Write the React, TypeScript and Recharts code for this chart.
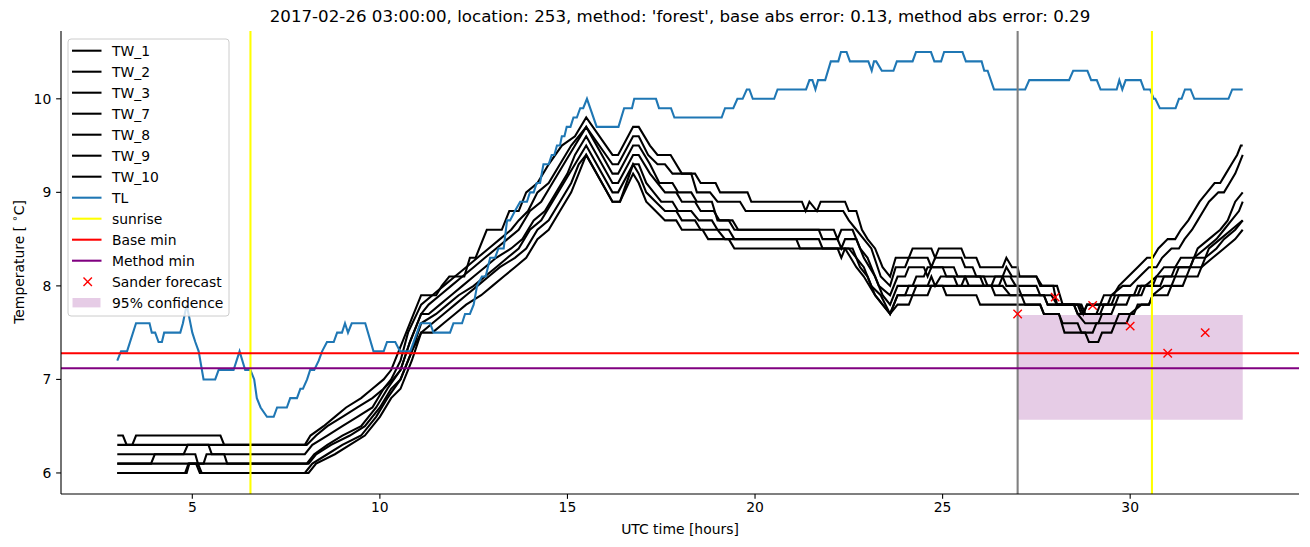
import React from 'react';
import { ComposedChart, Line, XAxis, YAxis, ReferenceLine, ReferenceArea, Scatter } from 'recharts';

type P = [number, number];

const xTicks = [5, 10, 15, 20, 25, 30];
const yTicks = [6, 7, 8, 9, 10];
const seriesNames = ['TW_1', 'TW_2', 'TW_3', 'TW_7', 'TW_8', 'TW_9', 'TW_10'];
const title = "2017-02-26 03:00:00, location: 253, method: 'forest', base abs error: 0.13, method abs error: 0.29";

const tl: P[] = [[3.0,7.2],[3.1,7.3],[3.26,7.3],[3.5,7.6],[3.86,7.6],[3.92,7.5],[4.01,7.5],[4.1,7.4],[4.19,7.4],[4.25,7.5],[4.68,7.5],[4.75,7.6],[4.85,7.8],[5.0,7.5],[5.08,7.4],[5.17,7.3],[5.3,7.0],[5.61,7.0],[5.7,7.1],[6.1,7.1],[6.26,7.3],[6.41,7.1],[6.55,7.1],[6.65,7.0],[6.72,6.8],[6.82,6.7],[6.99,6.6],[7.17,6.6],[7.26,6.7],[7.52,6.7],[7.61,6.8],[7.79,6.8],[7.88,6.9],[7.95,6.9],[8.06,7.0],[8.14,7.1],[8.25,7.1],[8.37,7.2],[8.46,7.3],[8.59,7.4],[8.77,7.4],[8.86,7.5],[8.99,7.5],[9.07,7.6],[9.15,7.5],[9.25,7.6],[9.61,7.6],[9.83,7.3],[10.1,7.3],[10.19,7.4],[10.41,7.4],[10.54,7.3],[10.81,7.3],[11.08,7.6],[11.34,7.6],[11.43,7.5],[11.87,7.5],[11.96,7.6],[12.19,7.6],[12.27,7.7],[12.4,7.7],[12.5,7.8],[12.59,8.0],[12.72,8.1],[12.82,8.1],[12.94,8.3],[13.07,8.3],[13.16,8.4],[13.3,8.4],[13.39,8.7],[13.47,8.7],[13.6,8.8],[13.74,8.9],[13.92,8.9],[14.0,9.0],[14.1,9.0],[14.18,9.1],[14.27,9.1],[14.36,9.3],[14.5,9.3],[14.58,9.4],[14.65,9.4],[14.72,9.5],[14.8,9.5],[14.85,9.6],[14.92,9.6],[14.98,9.7],[15.08,9.7],[15.16,9.8],[15.25,9.8],[15.34,9.9],[15.42,9.9],[15.52,10.0],[15.78,9.7],[16.36,9.7],[16.51,9.9],[16.72,9.9],[16.78,10.0],[17.36,10.0],[17.44,9.9],[17.76,9.9],[17.85,9.8],[19.11,9.8],[19.2,9.9],[19.42,9.9],[19.53,10.0],[19.67,10.0],[19.78,10.1],[19.85,10.1],[19.94,10.0],[20.51,10.0],[20.6,10.1],[21.36,10.1],[21.45,10.2],[21.53,10.2],[21.61,10.1],[21.68,10.2],[21.87,10.2],[22.02,10.4],[22.22,10.4],[22.29,10.5],[22.44,10.5],[22.53,10.4],[23.02,10.4],[23.11,10.3],[23.17,10.4],[23.23,10.4],[23.38,10.3],[23.69,10.3],[23.78,10.4],[24.2,10.4],[24.29,10.5],[24.69,10.5],[24.78,10.4],[24.96,10.4],[25.04,10.5],[25.53,10.5],[25.62,10.4],[26.04,10.4],[26.11,10.3],[26.2,10.3],[26.37,10.1],[27.2,10.1],[27.31,10.2],[28.37,10.2],[28.48,10.3],[28.86,10.3],[28.96,10.2],[29.11,10.2],[29.21,10.1],[29.64,10.1],[29.71,10.2],[29.79,10.1],[29.88,10.2],[30.28,10.2],[30.37,10.1],[30.53,10.1],[30.63,10.0],[30.67,10.0],[30.79,9.9],[31.21,9.9],[31.3,10.0],[31.37,10.0],[31.46,10.1],[31.61,10.1],[31.71,10.0],[32.62,10.0],[32.72,10.1],[33.0,10.1]];

const tw1: P[] = [[3,6.4],[3.15,6.4],[3.25,6.3],[3.4,6.3],[3.5,6.4],[5.75,6.4],[5.85,6.3],[8.0,6.3],[8.15,6.4],[8.5,6.5],[8.8,6.6],[9.1,6.7],[9.5,6.8],[9.8,6.9],[10.1,7.0],[10.3,7.1],[10.5,7.3],[10.7,7.5],[10.9,7.7],[11.1,7.9],[11.5,7.9],[11.65,8.0],[11.85,8.1],[12.25,8.1],[12.4,8.3],[12.55,8.3],[12.85,8.6],[13.25,8.6],[13.45,8.8],[13.7,8.8],[13.9,9.0],[14.2,9.1],[14.5,9.3],[14.85,9.5],[15.2,9.6],[15.5,9.8],[16.2,9.4],[16.35,9.4],[16.75,9.7],[16.9,9.7],[17.2,9.5],[17.4,9.4],[17.75,9.4],[18.05,9.2],[18.4,9.2],[18.55,9.1],[18.95,9.1],[19.07,9.0],[19.8,9.0],[19.9,8.9],[21.25,8.9],[21.35,8.8],[21.45,8.9],[21.65,8.8],[21.75,8.9],[22.4,8.9],[22.5,8.8],[22.7,8.8],[22.85,8.6],[23.0,8.5],[23.2,8.4],[23.4,8.2],[23.6,8.1],[23.75,8.3],[24.1,8.3],[24.2,8.4],[24.7,8.4],[24.8,8.3],[24.9,8.4],[25.5,8.4],[25.6,8.3],[25.9,8.3],[26.0,8.2],[26.6,8.2],[26.7,8.3],[26.85,8.2],[27.0,8.2],[27.05,8.1],[27.5,8.1],[27.65,8.0],[28.05,8.0],[28.2,7.8],[28.65,7.8],[28.75,7.7],[28.85,7.8],[29.2,7.8],[29.3,7.9],[29.55,7.9],[29.7,8.0],[29.95,8.1],[30.2,8.2],[30.45,8.3],[30.6,8.3],[30.75,8.4],[31.0,8.5],[31.2,8.5],[31.35,8.6],[31.55,8.7],[31.7,8.8],[31.85,8.9],[32.05,9.0],[32.25,9.1],[32.4,9.1],[32.55,9.2],[32.7,9.3],[32.85,9.4],[32.95,9.5],[33,9.5]];

const tw2: P[] = [[3,6.3],[8.05,6.3],[8.3,6.4],[8.6,6.5],[9.0,6.6],[9.4,6.7],[9.8,6.8],[10.1,6.9],[10.3,7.0],[10.55,7.2],[10.75,7.5],[11.1,7.8],[11.4,7.9],[11.7,8.0],[12.0,8.1],[12.3,8.2],[12.6,8.3],[12.9,8.4],[13.2,8.5],[13.5,8.6],[13.7,8.7],[13.95,8.8],[14.2,9.0],[14.5,9.1],[14.8,9.3],[15.1,9.5],[15.5,9.7],[16.2,9.3],[16.35,9.3],[16.75,9.6],[16.9,9.6],[17.15,9.4],[17.4,9.3],[17.6,9.3],[17.8,9.2],[18.3,9.2],[18.45,9.0],[18.8,9.0],[19.0,8.9],[19.6,8.9],[19.75,8.8],[22.35,8.8],[22.5,8.7],[22.7,8.6],[22.9,8.5],[23.1,8.4],[23.35,8.1],[23.6,8.0],[23.75,8.2],[24.0,8.2],[24.1,8.3],[24.6,8.3],[24.7,8.2],[24.8,8.3],[25.5,8.3],[25.6,8.2],[25.8,8.2],[25.9,8.1],[26.6,8.1],[26.7,8.2],[26.85,8.1],[27.5,8.1],[27.6,8.0],[27.95,8.0],[28.05,7.8],[28.5,7.8],[28.6,7.7],[28.75,7.7],[28.85,7.8],[29.4,7.8],[29.5,7.9],[29.8,8.0],[30.0,8.0],[30.25,8.1],[30.5,8.2],[30.7,8.2],[30.85,8.3],[31.1,8.4],[31.3,8.4],[31.45,8.5],[31.65,8.6],[31.8,8.7],[31.95,8.8],[32.1,8.9],[32.35,9.0],[32.5,9.0],[32.65,9.1],[32.8,9.2],[32.9,9.3],[33,9.4]];

const tw3: P[] = [[3,6.2],[4.77,6.2],[4.88,6.3],[5.43,6.3],[5.52,6.2],[8.0,6.2],[8.2,6.3],[8.6,6.4],[9.0,6.5],[9.4,6.6],[9.8,6.7],[10.1,6.9],[10.35,7.0],[10.55,7.1],[10.8,7.4],[11.1,7.7],[11.3,7.8],[11.6,7.9],[11.9,8.0],[12.2,8.1],[12.5,8.2],[12.8,8.3],[13.1,8.4],[13.4,8.5],[13.7,8.6],[14.0,8.8],[14.3,8.9],[14.6,9.1],[14.9,9.3],[15.2,9.5],[15.5,9.7],[16.2,9.2],[16.35,9.2],[16.75,9.5],[16.9,9.5],[17.2,9.3],[17.45,9.1],[17.8,9.1],[17.95,9.0],[18.3,9.0],[18.45,8.9],[18.85,8.9],[19.0,8.7],[19.4,8.7],[19.55,8.6],[22.1,8.6],[22.2,8.5],[22.3,8.6],[22.6,8.6],[22.8,8.4],[23.0,8.3],[23.3,8.0],[23.6,7.9],[23.8,8.1],[24.0,8.1],[24.1,8.2],[24.5,8.2],[24.6,8.1],[24.7,8.2],[25.3,8.2],[25.4,8.1],[26.0,8.1],[26.1,8.0],[26.5,8.0],[26.6,8.1],[26.8,8.1],[26.95,8.0],[27.5,8.0],[27.6,7.9],[27.9,7.9],[28.05,7.8],[28.6,7.8],[28.7,7.7],[29.2,7.7],[29.3,7.8],[29.6,7.8],[29.7,7.9],[30.3,7.9],[30.4,8.0],[30.7,8.1],[30.9,8.2],[31.2,8.2],[31.35,8.3],[31.7,8.3],[31.8,8.4],[32.1,8.5],[32.4,8.6],[32.6,8.7],[32.8,8.9],[33,9.0]];

const tw7: P[] = [[3,6.1],[3.9,6.1],[4.0,6.2],[5.08,6.2],[5.15,6.1],[8.05,6.1],[8.25,6.2],[8.6,6.3],[9.0,6.4],[9.5,6.5],[9.9,6.7],[10.2,6.9],[10.55,7.1],[10.8,7.4],[11.1,7.7],[11.3,7.7],[11.6,7.8],[11.9,7.9],[12.2,8.0],[12.5,8.1],[12.8,8.2],[13.1,8.3],[13.5,8.4],[13.8,8.5],[14.1,8.7],[14.4,8.8],[14.7,9.0],[15.0,9.2],[15.2,9.4],[15.5,9.6],[16.2,9.1],[16.35,9.1],[16.75,9.4],[16.9,9.4],[17.2,9.2],[17.4,9.1],[17.6,9.0],[17.9,9.0],[18.05,8.9],[18.4,8.9],[18.55,8.8],[18.9,8.8],[19.05,8.7],[19.3,8.7],[19.45,8.6],[21.7,8.6],[21.8,8.5],[22.2,8.5],[22.3,8.4],[22.4,8.5],[22.7,8.5],[22.9,8.3],[23.2,8.1],[23.4,7.9],[23.6,7.8],[23.8,8.0],[24.2,8.0],[24.3,8.1],[24.5,8.1],[24.6,8.2],[25.0,8.2],[25.1,8.1],[25.6,8.1],[25.7,8.0],[26.3,8.0],[26.4,8.1],[26.6,8.1],[26.7,8.0],[27.0,8.0],[27.1,7.9],[27.7,7.9],[27.8,7.8],[28.7,7.8],[28.8,7.7],[29.1,7.7],[29.2,7.8],[29.5,7.8],[29.6,7.9],[30.1,7.9],[30.2,8.0],[30.6,8.0],[30.7,8.1],[31.1,8.1],[31.2,8.2],[31.6,8.2],[31.7,8.3],[32.0,8.4],[32.3,8.5],[32.5,8.6],[32.7,8.7],[32.9,8.8],[33,8.9]];

const tw8: P[] = [[3,6.0],[4.81,6.0],[4.9,6.1],[5.15,6.1],[5.25,6.0],[8.0,6.0],[8.2,6.1],[8.6,6.2],[9.0,6.3],[9.5,6.4],[9.9,6.6],[10.2,6.8],[10.55,7.0],[10.85,7.3],[11.1,7.6],[11.5,7.7],[11.8,7.8],[12.1,7.9],[12.5,8.0],[12.8,8.1],[13.1,8.2],[13.4,8.3],[13.7,8.4],[14.0,8.6],[14.3,8.7],[14.6,8.9],[14.9,9.1],[15.2,9.3],[15.5,9.5],[16.2,9.0],[16.35,9.0],[16.75,9.3],[16.9,9.3],[17.1,9.1],[17.3,9.0],[17.5,8.9],[17.8,8.9],[17.95,8.8],[18.3,8.8],[18.5,8.7],[18.85,8.7],[19.0,8.6],[19.3,8.6],[19.45,8.5],[21.7,8.5],[21.8,8.4],[22.5,8.4],[22.7,8.3],[22.9,8.2],[23.1,8.0],[23.35,7.9],[23.6,7.7],[23.8,7.9],[24.0,7.9],[24.1,8.0],[25.5,8.0],[25.6,8.1],[26.1,8.1],[26.2,8.0],[26.6,8.0],[26.8,7.9],[27.1,7.9],[27.2,7.8],[27.6,7.8],[27.7,7.7],[28.1,7.7],[28.25,7.5],[28.8,7.5],[28.9,7.4],[29.15,7.4],[29.25,7.5],[29.5,7.5],[29.6,7.6],[29.9,7.6],[30.0,7.7],[30.3,7.8],[30.5,7.8],[30.6,7.9],[30.9,8.0],[31.1,8.0],[31.2,8.1],[31.5,8.1],[31.6,8.2],[31.9,8.2],[32.0,8.3],[32.3,8.4],[32.5,8.5],[32.8,8.6],[33,8.7]];

const tw9: P[] = [[3,6.1],[5.3,6.1],[5.38,6.2],[5.85,6.2],[5.93,6.1],[8.1,6.1],[8.3,6.2],[8.7,6.3],[9.2,6.4],[9.6,6.5],[10.0,6.7],[10.3,6.9],[10.55,7.0],[10.85,7.3],[11.1,7.5],[11.4,7.6],[11.7,7.7],[12.0,7.8],[12.3,7.9],[12.6,8.0],[12.9,8.1],[13.2,8.2],[13.6,8.3],[13.9,8.4],[14.2,8.6],[14.5,8.7],[14.8,8.9],[15.1,9.1],[15.3,9.3],[15.5,9.4],[16.2,8.9],[16.4,8.9],[16.75,9.3],[16.9,9.2],[17.1,9.0],[17.35,8.9],[17.6,8.8],[17.9,8.8],[18.05,8.7],[18.4,8.7],[18.55,8.6],[19.0,8.6],[19.2,8.5],[21.1,8.5],[21.2,8.4],[22.4,8.4],[22.55,8.3],[22.7,8.2],[22.9,8.1],[23.2,7.9],[23.4,7.8],[23.6,7.7],[23.8,7.9],[24.2,7.9],[24.3,8.0],[24.6,8.0],[24.7,8.1],[24.8,8.0],[24.95,8.1],[25.3,8.1],[25.4,8.0],[26.3,8.0],[26.4,7.9],[27.7,7.9],[27.8,7.8],[28.5,7.8],[28.6,7.7],[28.8,7.6],[29.15,7.6],[29.25,7.7],[29.5,7.7],[29.6,7.8],[29.9,7.8],[30.0,7.9],[30.2,7.9],[30.3,8.0],[30.8,8.0],[30.9,8.1],[31.2,8.1],[31.3,8.2],[31.6,8.2],[31.7,8.3],[32.0,8.3],[32.1,8.4],[32.4,8.5],[32.7,8.6],[33,8.7]];

const tw10: P[] = [[3,6.0],[4.85,6.0],[4.92,6.1],[5.1,6.1],[5.2,6.0],[8.1,6.0],[8.3,6.1],[8.8,6.2],[9.2,6.3],[9.6,6.4],[10.0,6.6],[10.3,6.8],[10.55,6.9],[10.85,7.2],[11.1,7.5],[11.4,7.5],[11.7,7.6],[12.0,7.7],[12.3,7.8],[12.7,7.9],[13.0,8.0],[13.3,8.1],[13.6,8.2],[13.9,8.3],[14.2,8.5],[14.5,8.6],[14.8,8.8],[15.1,9.0],[15.3,9.2],[15.5,9.4],[16.2,8.9],[16.4,8.9],[16.75,9.2],[16.9,9.1],[17.1,8.9],[17.35,8.8],[17.6,8.7],[17.9,8.7],[18.05,8.6],[18.6,8.6],[18.75,8.5],[19.3,8.5],[19.45,8.4],[22.2,8.4],[22.3,8.3],[22.4,8.4],[22.6,8.4],[22.8,8.2],[23.0,8.1],[23.2,7.9],[23.4,7.8],[23.6,7.7],[23.8,7.8],[24.1,7.8],[24.2,7.9],[24.6,7.9],[24.7,8.0],[25.0,8.0],[25.1,7.9],[25.9,7.9],[26.0,7.8],[27.6,7.8],[27.7,7.7],[28.1,7.7],[28.2,7.6],[28.6,7.6],[28.7,7.5],[29.0,7.5],[29.1,7.6],[29.6,7.6],[29.7,7.7],[30.1,7.7],[30.2,7.8],[30.5,7.8],[30.6,7.9],[31.0,7.9],[31.1,8.0],[31.4,8.0],[31.5,8.1],[31.8,8.1],[31.9,8.2],[32.2,8.3],[32.5,8.4],[32.8,8.5],[33,8.6]];

const twSeries: P[][] = [tw1, tw2, tw3, tw7, tw8, tw9, tw10];

const sanderHours = [27, 28, 29, 30, 31, 32];
const sanderTemps = [7.70, 7.88, 7.79, 7.57, 7.28, 7.50];
const sunriseHours = [6.55, 30.58];
const forecastStartHour = 27.0;
const baseMin = 7.28;
const methodMin = 7.12;
const confHours = [27, 33];
const confTemps = [6.57, 7.69];

const X_DOMAIN: [number, number] = [1.5, 34.5];
const Y_DOMAIN: [number, number] = [5.775, 10.725];

const FONT = 'DejaVu Sans, sans-serif';
const FS = 13.9;
const LW = 2.08;
const TICK = 4.86;

const toPts = (arr: P[]) => arr.map(([t, v]) => ({ t, v }));
const sanderData = sanderHours.map((t, i) => ({ t, v: sanderTemps[i] }));

const XMark = (props: any) => {
  const { cx, cy } = props;
  if (cx == null || cy == null) return null;
  const s = 4.2;
  return (
    <path d={`M${cx - s},${cy - s}L${cx + s},${cy + s}M${cx - s},${cy + s}L${cx + s},${cy - s}`} stroke="red" strokeWidth={1.4} fill="none" />
  );
};

const legendItems: { label: string; kind: string; color: string }[] = [
  ...seriesNames.map((n) => ({ label: n, kind: 'line', color: '#000000' })),
  { label: 'TL', kind: 'line', color: '#1f77b4' },
  { label: 'sunrise', kind: 'line', color: '#ffff00' },
  { label: 'Base min', kind: 'line', color: '#ff0000' },
  { label: 'Method min', kind: 'line', color: '#800080' },
  { label: 'Sander forecast', kind: 'x', color: '#ff0000' },
  { label: '95% confidence', kind: 'patch', color: '#800080' },
];

const LegendBox = () => (
  <svg style={{ position: 'absolute', left: 67, top: 38 }} width={164} height={281}>
    <rect x={1} y={1} width={161} height={277} rx={3} ry={3} fill="rgba(255,255,255,0.8)" stroke="#cccccc" strokeWidth={1} />
    {legendItems.map((it, i) => {
      const y = 12.7 + i * 21;
      return (
        <g key={it.label}>
          {it.kind === 'line' && <line x1={5} x2={34.5} y1={y} y2={y} stroke={it.color} strokeWidth={LW} />}
          {it.kind === 'x' && (
            <path d={`M${20.7 - 4.2},${y - 4.2}L${20.7 + 4.2},${y + 4.2}M${20.7 - 4.2},${y + 4.2}L${20.7 + 4.2},${y - 4.2}`} stroke="red" strokeWidth={1.4} />
          )}
          {it.kind === 'patch' && <rect x={5.5} y={y - 4.7} width={28} height={9.4} fill={it.color} fillOpacity={0.2} />}
          <text x={45} y={y} dominantBaseline="central" fontFamily={FONT} fontSize={FS} fill="#000">
            {it.label}
          </text>
        </g>
      );
    })}
  </svg>
);

export default function App() {
  return (
    <div style={{ position: 'absolute', left: 0, top: 0, width: 1310, height: 547, background: '#fff', fontFamily: FONT, overflow: 'hidden' }}>
      <div style={{ position: 'absolute', left: 61, width: 1238, top: 7, textAlign: 'center', fontSize: 16.67, lineHeight: '20px', color: '#000', whiteSpace: 'nowrap' }}>
        {title}
      </div>
      <ComposedChart width={1310} height={547} margin={{ top: 31, right: 11, left: 0, bottom: 0 }}>
        <XAxis
          xAxisId="main"
          type="number"
          dataKey="t"
          domain={X_DOMAIN}
          allowDataOverflow
          ticks={xTicks}
          tickSize={TICK}
          tickMargin={3.5}
          height={53}
          stroke="#000"
          tick={{ fill: '#000', fontSize: FS, fontFamily: FONT }}
          tickLine={{ stroke: '#000', strokeWidth: 1.1 }}
          axisLine={{ stroke: '#000', strokeWidth: 1.1 }}
          label={{ value: 'UTC time [hours]', position: 'insideBottom', offset: 13, fill: '#000', fontSize: FS, fontFamily: FONT }}
        />
        <XAxis xAxisId="top" orientation="top" type="number" domain={X_DOMAIN} allowDataOverflow height={0} tick={false} tickLine={false} axisLine={{ stroke: '#000', strokeWidth: 1.1 }} />
        <YAxis
          yAxisId="main"
          type="number"
          domain={Y_DOMAIN}
          allowDataOverflow
          ticks={yTicks}
          width={61}
          tickSize={TICK}
          tickMargin={4.86}
          tick={{ fill: '#000', fontSize: FS, fontFamily: FONT }}
          tickLine={{ stroke: '#000', strokeWidth: 1.1 }}
          axisLine={{ stroke: '#000', strokeWidth: 1.1 }}
        />
        <YAxis yAxisId="right" orientation="right" type="number" domain={Y_DOMAIN} allowDataOverflow width={0} tick={false} tickLine={false} axisLine={{ stroke: '#000', strokeWidth: 1.1 }} />

        <ReferenceArea xAxisId="main" yAxisId="main" x1={confHours[0]} x2={confHours[1]} y1={confTemps[0]} y2={confTemps[1]} fill="#800080" fillOpacity={0.2} stroke="none" />

        {twSeries.map((s, i) => (
          <Line key={seriesNames[i]} xAxisId="main" yAxisId="main" data={toPts(s)} dataKey="v" type="linear" stroke="#000" strokeWidth={LW} dot={false} activeDot={false} isAnimationActive={false} />
        ))}
        <Line xAxisId="main" yAxisId="main" data={toPts(tl)} dataKey="v" type="linear" stroke="#1f77b4" strokeWidth={LW} dot={false} activeDot={false} isAnimationActive={false} />

        {sunriseHours.map((h) => (
          <ReferenceLine key={h} xAxisId="main" yAxisId="main" x={h} stroke="#ffff00" strokeWidth={LW} />
        ))}
        <ReferenceLine xAxisId="main" yAxisId="main" x={forecastStartHour} stroke="#808080" strokeWidth={LW} />
        <ReferenceLine xAxisId="main" yAxisId="main" y={baseMin} stroke="#ff0000" strokeWidth={LW} />
        <ReferenceLine xAxisId="main" yAxisId="main" y={methodMin} stroke="#800080" strokeWidth={LW} />

        <Scatter xAxisId="main" yAxisId="main" data={sanderData} dataKey="v" shape={XMark} isAnimationActive={false} />
      </ComposedChart>
      <svg style={{ position: 'absolute', left: 0, top: 0 }} width={40} height={547}>
        <text transform="translate(19,262) rotate(-90)" textAnchor="middle" dominantBaseline="central" fontFamily={FONT} fontSize={FS} fill="#000">
          Temperature [ <tspan dy={-5} fontSize={10}>∘</tspan><tspan dy={5}>C]</tspan>
        </text>
      </svg>
      <LegendBox />
    </div>
  );
}
